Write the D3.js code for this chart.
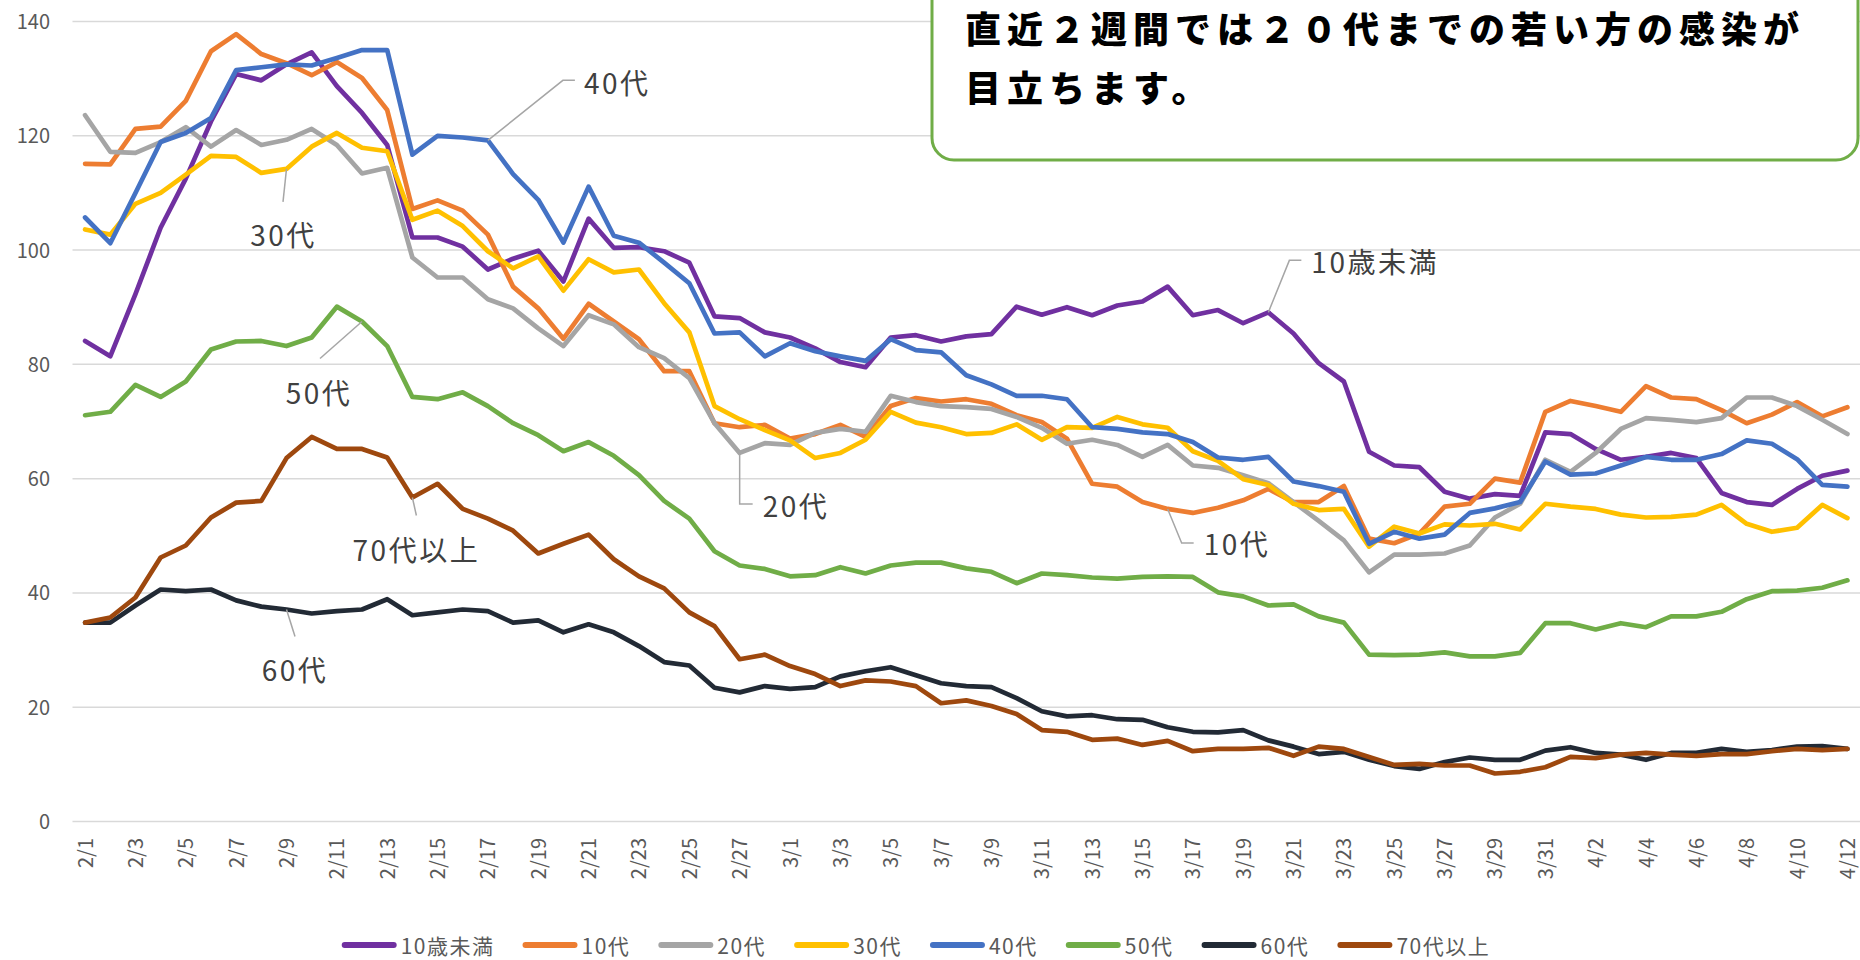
<!DOCTYPE html>
<html><head><meta charset="utf-8">
<script src="https://cdn.jsdelivr.net/npm/d3@7"></script>
<style>html,body{margin:0;padding:0;background:#fff;overflow:hidden}</style>
</head><body>
<svg id="chart" width="1860" height="960"></svg>
<script>
// ---------------- data ----------------
const dates = ["2/1","2/2","2/3","2/4","2/5","2/6","2/7","2/8","2/9","2/10","2/11","2/12","2/13","2/14","2/15","2/16","2/17","2/18","2/19","2/20","2/21","2/22","2/23","2/24","2/25","2/26","2/27","2/28",
"3/1","3/2","3/3","3/4","3/5","3/6","3/7","3/8","3/9","3/10","3/11","3/12","3/13","3/14","3/15","3/16","3/17","3/18","3/19","3/20","3/21","3/22","3/23","3/24","3/25","3/26","3/27","3/28","3/29","3/30","3/31",
"4/1","4/2","4/3","4/4","4/5","4/6","4/7","4/8","4/9","4/10","4/11","4/12"];

const seriesNames = ["10歳未満","10代","20代","30代","40代","50代","60代","70代以上"];

const under10 = [84.1,81.4,92.3,103.9,112.5,122.5,130.8,129.7,132.5,134.6,128.7,124.0,118.4,102.2,102.2,100.6,96.6,98.5,99.9,94.5,105.5,100.4,100.5,99.8,97.8,88.4,88.1,85.6,84.7,82.8,80.4,79.5,84.7,85.1,84.0,84.9,85.3,90.1,88.7,90.0,88.6,90.3,91.0,93.6,88.6,89.5,87.2,89.1,85.4,80.2,77.0,64.7,62.3,62.0,57.7,56.5,57.3,57.0,68.1,67.8,65.2,63.3,63.8,64.5,63.6,57.5,55.9,55.4,58.2,60.5,61.4];
const teens = [115.1,115.0,121.2,121.6,126.1,134.8,137.8,134.3,132.7,130.6,132.9,130.1,124.5,107.2,108.7,106.9,102.7,93.6,89.8,84.5,90.6,87.5,84.4,78.8,78.8,69.7,69.0,69.4,67.0,67.8,69.4,67.3,72.7,74.1,73.5,73.9,73.1,71.1,69.9,67.0,59.1,58.6,55.9,54.7,54.0,54.9,56.2,58.2,55.9,55.9,58.7,49.5,48.7,50.4,55.1,55.6,60.0,59.3,71.7,73.6,72.7,71.7,76.2,74.2,73.9,72.0,69.7,71.2,73.4,70.9,72.5];
const twenties = [123.6,117.2,117.0,118.9,121.5,118.1,121.0,118.4,119.3,121.2,118.4,113.4,114.4,98.7,95.2,95.2,91.4,89.8,86.3,83.2,88.6,87.0,83.0,81.1,77.6,69.7,64.5,66.2,65.9,68.0,68.7,68.2,74.5,73.4,72.7,72.5,72.2,70.8,68.9,66.1,66.8,65.9,63.8,65.9,62.3,61.9,60.6,59.2,55.9,52.6,49.2,43.6,46.7,46.7,46.9,48.3,53.2,55.6,63.3,61.2,64.5,68.7,70.6,70.3,69.9,70.6,74.2,74.2,72.7,70.3,67.8];
const thirties = [103.6,102.7,108.1,110.0,113.2,116.5,116.3,113.5,114.2,118.1,120.5,117.9,117.3,105.3,106.9,104.2,99.8,96.8,98.9,92.9,98.4,96.1,96.6,90.7,85.6,72.7,70.4,68.5,66.7,63.6,64.5,66.8,71.7,69.8,69.0,67.8,68.0,69.5,66.8,69.0,68.9,70.8,69.5,68.9,64.8,63.1,59.9,58.9,55.6,54.5,54.7,48.1,51.6,50.4,52.0,51.8,52.1,51.1,55.6,55.1,54.7,53.7,53.2,53.3,53.7,55.4,52.1,50.7,51.4,55.4,53.1];
const forties = [105.7,101.2,110.0,118.9,120.5,123.1,131.5,132.0,132.5,132.3,133.6,135.0,135.0,116.7,120.0,119.7,119.2,113.3,108.8,101.3,111.1,102.5,101.3,97.8,94.2,85.4,85.6,81.4,83.7,82.3,81.4,80.6,84.4,82.5,82.1,78.1,76.5,74.5,74.5,73.9,69.0,68.7,68.1,67.8,66.4,63.7,63.3,63.8,59.5,58.7,57.7,48.6,50.7,49.5,50.2,54.0,54.8,55.9,63.0,60.7,60.9,62.3,63.8,63.3,63.3,64.3,66.7,66.1,63.4,58.9,58.6];
const fifties = [71.1,71.7,76.4,74.3,77.0,82.6,84.0,84.1,83.2,84.7,90.1,87.5,83.2,74.3,73.9,75.1,72.7,69.7,67.6,64.8,66.4,64.0,60.6,56.1,53.0,47.3,44.8,44.2,42.9,43.1,44.5,43.4,44.8,45.3,45.3,44.3,43.7,41.7,43.4,43.1,42.7,42.5,42.8,42.9,42.8,40.1,39.4,37.8,38.0,35.9,34.8,29.2,29.1,29.2,29.6,28.9,28.9,29.5,34.7,34.7,33.6,34.7,34.0,35.9,35.9,36.7,38.9,40.3,40.4,40.9,42.2];
const sixties = [34.8,34.8,37.8,40.6,40.3,40.6,38.7,37.6,37.1,36.4,36.8,37.1,38.9,36.1,36.6,37.1,36.8,34.8,35.2,33.1,34.5,33.1,30.7,27.9,27.3,23.4,22.6,23.7,23.2,23.5,25.4,26.3,27.0,25.6,24.2,23.7,23.5,21.6,19.3,18.4,18.6,17.9,17.8,16.5,15.7,15.6,16.0,14.2,13.1,11.8,12.2,10.8,9.7,9.2,10.4,11.2,10.8,10.8,12.4,13.0,12.0,11.7,10.8,12.0,12.0,12.7,12.2,12.5,13.1,13.2,12.7];
const seventiesPlus = [34.8,35.7,39.2,46.2,48.3,53.2,55.8,56.1,63.6,67.3,65.2,65.2,63.7,56.7,59.1,54.7,53.0,50.9,46.9,48.6,50.2,45.9,42.9,40.8,36.6,34.2,28.4,29.2,27.2,25.8,23.7,24.7,24.5,23.7,20.7,21.2,20.2,18.8,16.0,15.7,14.3,14.5,13.4,14.1,12.3,12.7,12.7,12.9,11.5,13.1,12.7,11.3,9.9,10.1,9.8,9.8,8.4,8.7,9.5,11.3,11.1,11.7,12.0,11.7,11.5,11.8,11.8,12.3,12.7,12.5,12.7];

const yTicks = [0,20,40,60,80,100,120,140];
const noteLines = ["直近２週間では２０代までの若い方の感染が","目立ちます。"];

// ---------------- styles / layout ----------------
const seriesValues = [under10, teens, twenties, thirties, forties, fifties, sixties, seventiesPlus];
const colors = ["#7030A0","#ED7D31","#A5A5A5","#FFC000","#4472C4","#70AD47","#222A35","#9E480E"];
const FONT = "'Noto Sans CJK JP','Noto Sans',sans-serif";

const W = 1860, H = 960;
const plot = {left: 72.5, right: 1860, top: 21.5, bottom: 821.5};

const svg = d3.select("#chart");
svg.append("rect").attr("width", W).attr("height", H).attr("fill", "#fff");

const x = d3.scalePoint().domain(dates).range([plot.left, plot.right]).padding(0.5);
const y = d3.scaleLinear().domain([0, 140]).range([plot.bottom, plot.top]);

// gridlines
svg.append("g").selectAll("line").data(yTicks).join("line")
  .attr("x1", plot.left).attr("x2", plot.right)
  .attr("y1", d => y(d)).attr("y2", d => y(d))
  .attr("stroke", "#D9D9D9").attr("stroke-width", 1.5);

// y axis
const yAxis = svg.append("g").attr("transform", `translate(${plot.left},0)`)
  .call(d3.axisLeft(y).tickValues(yTicks).tickSize(0).tickPadding(22.5));
yAxis.select(".domain").remove();
yAxis.selectAll("text").attr("font-family", FONT).attr("font-size", 20).attr("fill", "#595959")
  .attr("dy", "0.35em");

// x axis
const xAxis = svg.append("g").attr("transform", `translate(0,${plot.bottom})`)
  .call(d3.axisBottom(x).tickValues(dates.filter((d, i) => i % 2 === 0)).tickSize(0));
xAxis.select(".domain").remove();
xAxis.selectAll("text")
  .attr("font-family", FONT).attr("font-size", 20).attr("fill", "#595959")
  .attr("transform", "rotate(-90)")
  .attr("x", -16.5).attr("y", 0).attr("dy", "0.35em")
  .attr("text-anchor", "end");

// lines
const line = d3.line().x((d, i) => x(dates[i])).y(d => y(d));
svg.append("g").selectAll("path").data(seriesValues).join("path")
  .attr("d", d => line(d))
  .attr("fill", "none")
  .attr("stroke", (d, i) => colors[i])
  .attr("stroke-width", 4.7)
  .attr("stroke-linejoin", "round")
  .attr("stroke-linecap", "round");

// data labels with leader lines
const labels = [
  {s: 4, i: 16, pts: [[75,-60],[87,-60]], tx: 96, ty: -58, anchor: "start"},
  {s: 3, i: 8,  pts: [[-3.5,33]], tx: -3, ty: 65, anchor: "middle"},
  {s: 5, i: 11, pts: [[-42,37]], tx: -43, ty: 70, anchor: "middle"},
  {s: 6, i: 8,  pts: [[8.5,27]], tx: 8.5, ty: 59, anchor: "middle"},
  {s: 7, i: 13, pts: [[4,18]], tx: 4, ty: 51, anchor: "middle"},
  {s: 2, i: 26, pts: [[0,51],[13,51]], tx: 23, ty: 52, anchor: "start"},
  {s: 1, i: 43, pts: [[14,34],[26,34]], tx: 36, ty: 34, anchor: "start"},
  {s: 0, i: 47, pts: [[21,-52],[33,-52]], tx: 43, ty: -51, anchor: "start"}
];
const lg = svg.append("g");
labels.forEach(l => {
  const ax = x(dates[l.i]), ay = y(seriesValues[l.s][l.i]);
  const pts = [[ax, ay]].concat(l.pts.map(p => [ax + p[0], ay + p[1]]));
  lg.append("path").attr("d", d3.line()(pts))
    .attr("fill", "none").attr("stroke", "#A6A6A6").attr("stroke-width", 1.5);
  lg.append("text").attr("x", ax + l.tx).attr("y", ay + l.ty)
    .attr("text-anchor", l.anchor).attr("dominant-baseline", "central")
    .attr("font-family", FONT).attr("font-size", 28).attr("letter-spacing", 2.5)
    .attr("fill", "#404040")
    .text(seriesNames[l.s]);
});

// annotation box
const note = svg.append("g");
note.append("rect").attr("x", 932).attr("y", -60).attr("width", 926).attr("height", 220)
  .attr("rx", 22).attr("ry", 22)
  .attr("fill", "#fff").attr("stroke", "#70AD47").attr("stroke-width", 3);
note.selectAll("text").data(noteLines).join("text")
  .attr("x", 965).attr("y", (d, i) => 43 + i * 59)
  .attr("font-family", FONT).attr("font-size", 36).attr("font-weight", 900)
  .attr("letter-spacing", 6).attr("fill", "#000")
  .text(d => d);

// legend
const legend = svg.append("g");
let lx = 341.7;
const ly = 945;
seriesNames.forEach((name, i) => {
  const g = legend.append("g");
  g.append("line").attr("x1", lx + 3).attr("x2", lx + 52).attr("y1", ly).attr("y2", ly)
    .attr("stroke", colors[i]).attr("stroke-width", 6).attr("stroke-linecap", "round");
  const t = g.append("text").attr("x", lx + 59).attr("y", ly)
    .attr("dominant-baseline", "central")
    .attr("font-family", FONT).attr("font-size", 21).attr("letter-spacing", 1.5)
    .attr("fill", "#595959")
    .text(name);
  const tw = t.node().getComputedTextLength();
  lx += 59 + tw + 28;
});
</script>
</body></html>
